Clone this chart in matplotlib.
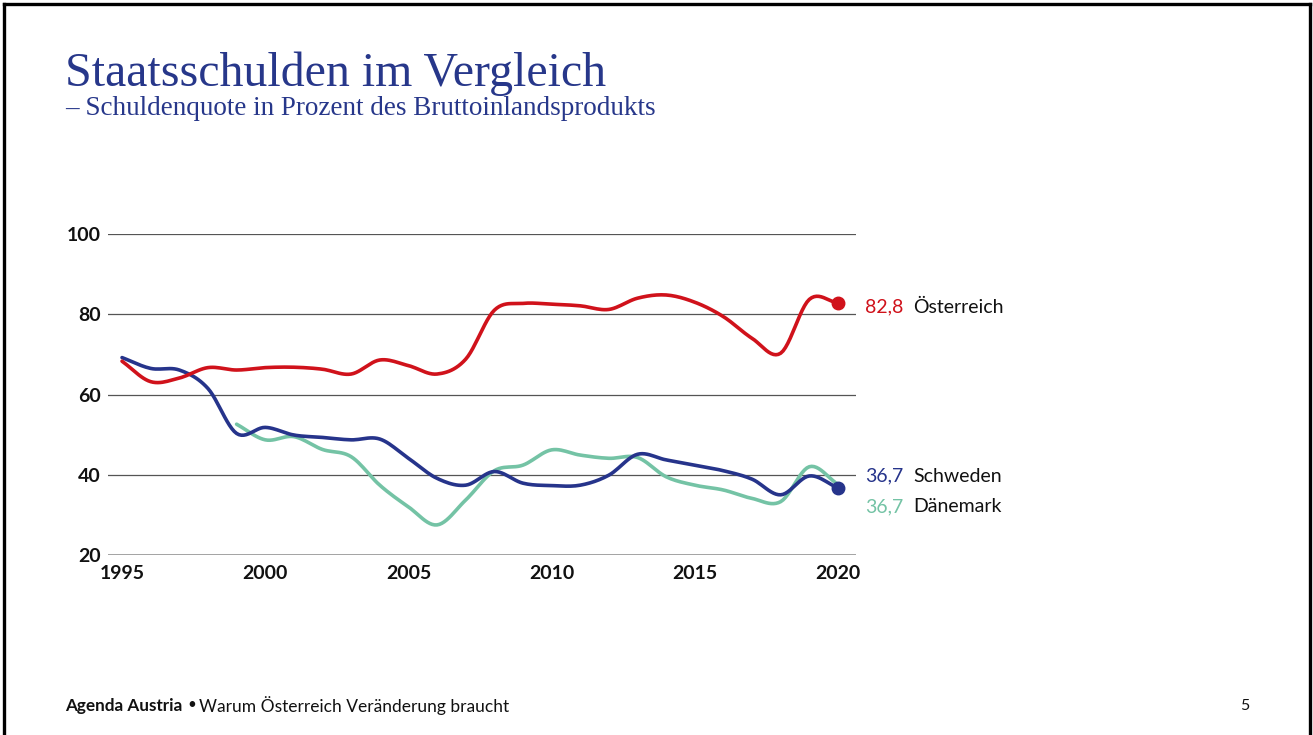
"""
Staatsschulden im Vergleich - Schuldenquote in % des BIP
"""

import numpy as np
import matplotlib
matplotlib.use("Agg")
from matplotlib import pyplot as plt
from matplotlib.lines import Line2D

# data
years = list(range(1995, 2021))
oesterreich = [68.3, 63.2, 64.1, 66.7, 66.1, 66.7, 66.8, 66.3, 65.1, 68.6, 67.2, 65.1, 68.8,
               81.0, 82.7, 82.5, 82.1, 81.2, 84.0, 84.8, 83.0, 79.4, 74.0, 70.3, 83.7, 82.8]
schweden = [69.2, 66.5, 66.1, 61.5, 50.3, 51.8, 49.9, 49.3, 48.7, 48.9, 44.1, 39.1, 37.4,
            40.8, 37.9, 37.3, 37.4, 39.9, 45.1, 43.7, 42.4, 41.0, 38.9, 35.0, 39.7, 36.7]
daenemark_years = list(range(1999, 2021))
daenemark = [52.6, 48.7, 49.5, 46.3, 44.5, 37.4, 32.0, 27.5, 33.7, 41.0, 42.4, 46.2, 44.9,
             44.1, 44.3, 39.5, 37.4, 36.2, 34.1, 33.3, 42.0, 37.6]
end_labels = ["82,8", "36,7", "36,7"]
names = ["Österreich", "Schweden", "Dänemark"]
yticks = [20, 40, 60, 80, 100]
xticks = [1995, 2000, 2005, 2010, 2015, 2020]

RED = "#d0121b"
NAVY = "#26348b"
GREEN = "#74c3a5"
TITLE = "#27378a"

plt.rcParams['font.family'] = ['Lato', 'DejaVu Sans']


def smooth(x, y, n=12):
    # catmull-rom curve through the yearly points (drawing only)
    x = np.asarray(x, float)
    y = np.asarray(y, float)
    px = np.concatenate([[2 * x[0] - x[1]], x, [2 * x[-1] - x[-2]]])
    py = np.concatenate([[2 * y[0] - y[1]], y, [2 * y[-1] - y[-2]]])
    xs, ys = [], []
    t = np.linspace(0, 1, n, endpoint=False)
    for i in range(1, len(px) - 2):
        for p, out in ((px, xs), (py, ys)):
            p0, p1, p2, p3 = p[i - 1], p[i], p[i + 1], p[i + 2]
            out.extend(0.5 * (2 * p1 + (-p0 + p2) * t + (2 * p0 - 5 * p1 + 4 * p2 - p3) * t ** 2
                              + (-p0 + 3 * p1 - 3 * p2 + p3) * t ** 3))
    xs.append(x[-1])
    ys.append(y[-1])
    return xs, ys


fig = plt.figure(figsize=(13.13, 7.35), dpi=100)
ax = fig.add_axes([108 / 1313, 1 - 555 / 735, 748 / 1313, 321 / 735])
ax.set_xlim(1994.51, 2020.63)
ax.set_ylim(20, 100)

for v in yticks:
    if v == 20:
        ax.axhline(v, color="#9a9a9a", lw=2.0, zorder=1)
    else:
        ax.axhline(v, color="#555555", lw=0.9, zorder=1)

ax.plot(*smooth(daenemark_years, daenemark), color=GREEN, lw=2.6, zorder=3, solid_capstyle="round")
ax.plot(*smooth(years, schweden), color=NAVY, lw=2.6, zorder=4, solid_capstyle="round")
ax.plot(*smooth(years, oesterreich), color=RED, lw=2.6, zorder=4, solid_capstyle="round")
ax.plot(years[-1], oesterreich[-1], "o", color=RED, ms=9, zorder=5)
ax.plot(years[-1], schweden[-1], "o", color=NAVY, ms=9, zorder=5)

for s in ax.spines.values():
    s.set_visible(False)
ax.set_yticks(yticks)
ax.set_xticks(xticks)
ax.tick_params(length=0, labelsize=14, colors="#111111")
ax.tick_params(axis="y", pad=5)
ax.tick_params(axis="x", pad=7)
for lab in ax.get_xticklabels() + ax.get_yticklabels():
    lab.set_fontweight("bold")

# end labels
label_y = [81.8, 39.6, 32.0]
label_col = [RED, NAVY, GREEN]
for val, name, yy, c in zip(end_labels, names, label_y, label_col):
    ax.annotate(val, xy=(1, yy), xycoords=("axes fraction", "data"), xytext=(6.5, 0),
                textcoords="offset points", color=c, fontsize=14, va="center", ha="left")
    ax.annotate(name, xy=(1, yy), xycoords=("axes fraction", "data"), xytext=(41, 0),
                textcoords="offset points", color="#111111", fontsize=14, va="center", ha="left")

# titles
fig.text(65 / 1313, 1 - 86 / 735, "Staatsschulden im Vergleich", family="Liberation Serif",
         fontsize=34.5, color=TITLE, va="baseline")
fig.text(65 / 1313, 1 - 115 / 735, "– Schuldenquote in Prozent des Bruttoinlandsprodukts",
         family="Liberation Serif", fontsize=19.5, color=TITLE, va="baseline")

# footer
fig.text(65 / 1313, 1 - 706 / 735, "Agenda Austria", fontsize=12.3, weight="bold",
         color="#111111", va="center")
fig.text(187 / 1313, 1 - 705 / 735, "•", fontsize=11, color="#111111", va="center")
fig.text(199 / 1313, 1 - 706 / 735, "Warum Österreich Veränderung braucht", fontsize=12.5,
         color="#111111", va="center")
fig.text(1245 / 1313, 1 - 706 / 735, "5", fontsize=11.5, color="#111111", va="center", ha="center")

# slide frame
for xs_, ys_ in (([3.5, 3.5], [0, 731.5]), ([3.5, 1309.5], [731.5, 731.5]), ([1309.5, 1309.5], [731.5, 0])):
    fig.add_artist(Line2D([x / 1313 for x in xs_], [y / 735 for y in ys_], color="black", lw=2.4,
                          transform=fig.transFigure))

fig.savefig("out.png", dpi=100, facecolor="white")
